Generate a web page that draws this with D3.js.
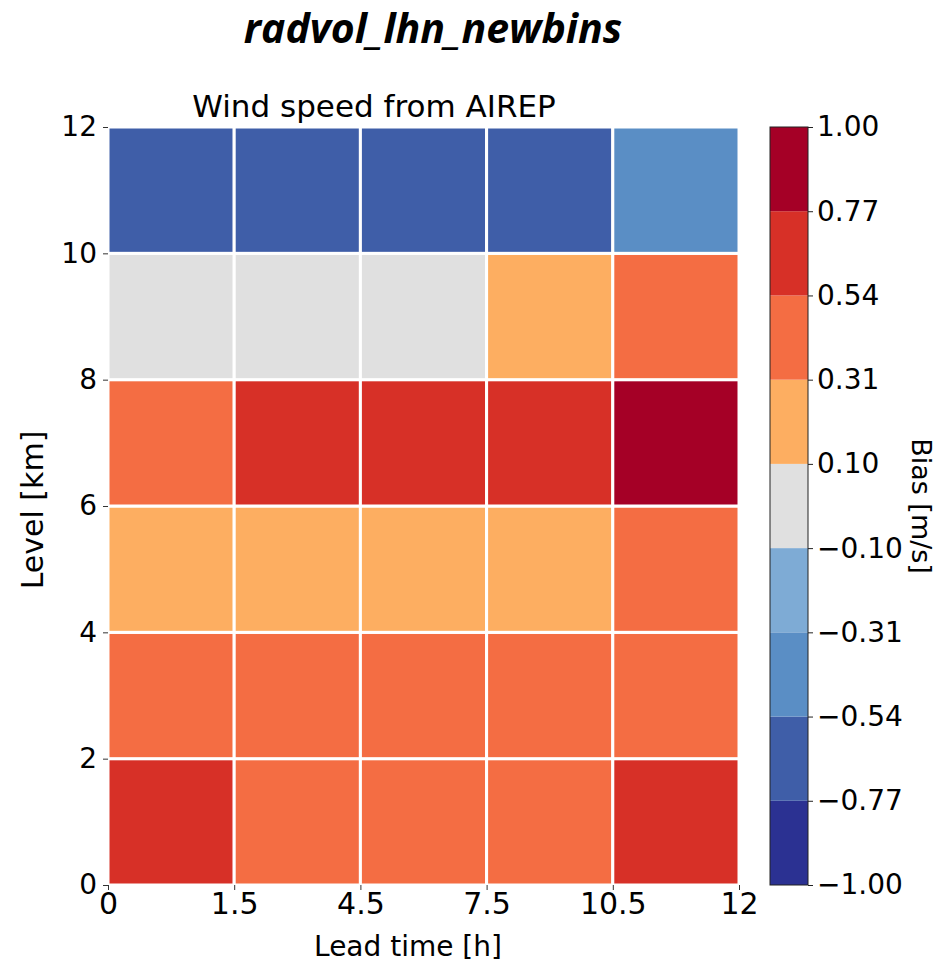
<!DOCTYPE html>
<html>
<head>
<meta charset="utf-8">
<script src="https://cdn.jsdelivr.net/npm/d3@7"></script>
<style>
  body { margin: 0; background: #fff; }
  text { font-family: "DejaVu Sans", sans-serif; fill: #000; }
</style>
</head>
<body>
<svg width="940" height="968"></svg>
<script>
var svg = d3.select("svg");

// lead time bin edges (columns drawn with equal width)
var leadEdges = ["0", "1.5", "4.5", "7.5", "10.5", "12"];
// level bin edges in km
var levelEdges = [0, 2, 4, 6, 8, 10, 12];
// bias per level bin (bottom to top), one value per lead time bin
var bias0to2 = [0.65, 0.45, 0.45, 0.45, 0.65];
var bias2to4 = [0.42, 0.45, 0.44, 0.43, 0.42];
var bias4to6 = [0.20, 0.22, 0.21, 0.20, 0.40];
var bias6to8 = [0.45, 0.66, 0.68, 0.64, 0.85];
var bias8to10 = [0.02, 0.05, 0.03, 0.20, 0.40];
var bias10to12 = [-0.62, -0.60, -0.63, -0.65, -0.45];
var biasRows = [bias0to2, bias2to4, bias4to6, bias6to8, bias8to10, bias10to12];

// colour bar boundaries and colours
var cbBounds = [-1.00, -0.77, -0.54, -0.31, -0.10, 0.10, 0.31, 0.54, 0.77, 1.00];
var cbColors = ["#2b3192", "#3f5ea8", "#5a8ec5", "#7eabd5", "#e0e0e0", "#fdae61", "#f46d43", "#d73027", "#a50026"];

var pLeft = 108, pRight = 739, pTop = 127, pBottom = 885;

var x = d3.scaleLinear().domain([0, leadEdges.length - 1]).range([pLeft, pRight]);
var y = d3.scaleLinear().domain([0, 12]).range([pBottom, pTop]);
var color = d3.scaleThreshold().domain(cbBounds.slice(1, -1)).range(cbColors);

// cells
var cells = [];
biasRows.forEach(function(row, i) {
    row.forEach(function(v, j) {
        cells.push({i: i, j: j, v: v});
    });
});

svg.append("g").selectAll("rect")
    .data(cells)
    .enter().append("rect")
    .attr("x", function(d) { return x(d.j); })
    .attr("y", function(d) { return y(levelEdges[d.i + 1]); })
    .attr("width", function(d) { return x(d.j + 1) - x(d.j); })
    .attr("height", function(d) { return y(levelEdges[d.i]) - y(levelEdges[d.i + 1]); })
    .attr("fill", function(d) { return color(d.v); })
    .attr("stroke", "#fff")
    .attr("stroke-width", 3);

// x axis
var xAxis = svg.append("g")
    .attr("transform", "translate(0," + pBottom + ")")
    .call(d3.axisBottom(x).tickValues(d3.range(leadEdges.length))
        .tickFormat(function(i) { return leadEdges[i]; })
        .tickSize(5).tickPadding(3));
xAxis.select(".domain").remove();
xAxis.selectAll("text").style("font-size", "30px");
xAxis.selectAll("line").attr("stroke", "#333");

// y axis
var yAxis = svg.append("g")
    .attr("transform", "translate(" + pLeft + ",0)")
    .call(d3.axisLeft(y).tickValues(levelEdges).tickSize(5).tickPadding(6));
yAxis.select(".domain").remove();
yAxis.selectAll("text").style("font-size", "28px");
yAxis.selectAll("line").attr("stroke", "#333");

// axis labels
svg.append("text")
    .attr("x", 408).attr("y", 956)
    .attr("text-anchor", "middle")
    .style("font-size", "28px")
    .text("Lead time [h]");

svg.append("text")
    .attr("transform", "translate(43,510) rotate(-90)")
    .attr("text-anchor", "middle")
    .style("font-size", "30px")
    .text("Level [km]");

// titles
svg.append("text")
    .attr("x", 433).attr("y", 43)
    .attr("text-anchor", "middle")
    .style("font-family", "'Open Sans', sans-serif")
    .style("font-weight", "bold")
    .style("font-style", "italic")
    .style("font-size", "41px")
    .text("radvol_lhn_newbins");

svg.append("text")
    .attr("x", 374).attr("y", 117)
    .attr("text-anchor", "middle")
    .style("font-size", "31px")
    .text("Wind speed from AIREP");

// colour bar
var cbLeft = 770, cbWidth = 38;
var cbY = d3.scaleLinear().domain([0, cbBounds.length - 1]).range([pBottom, pTop]);

svg.append("g").selectAll("rect")
    .data(cbColors)
    .enter().append("rect")
    .attr("x", cbLeft)
    .attr("y", function(d, i) { return cbY(i + 1); })
    .attr("width", cbWidth)
    .attr("height", function(d, i) { return cbY(i) - cbY(i + 1); })
    .attr("fill", function(d) { return d; });

svg.append("rect")
    .attr("x", cbLeft).attr("y", pTop)
    .attr("width", cbWidth).attr("height", pBottom - pTop)
    .attr("fill", "none").attr("stroke", "#222").attr("stroke-width", 1);

var cbAxis = svg.append("g")
    .attr("transform", "translate(" + (cbLeft + cbWidth) + ",0)")
    .call(d3.axisRight(cbY).tickValues(d3.range(cbBounds.length))
        .tickFormat(function(i) { return d3.format(".2f")(cbBounds[i]).replace("-", "\u2212"); })
        .tickSize(5).tickPadding(4));
cbAxis.select(".domain").remove();
cbAxis.selectAll("text").style("font-size", "28px");
cbAxis.selectAll("line").attr("stroke", "#222");

svg.append("text")
    .attr("transform", "translate(912,506) rotate(90)")
    .attr("text-anchor", "middle")
    .style("font-size", "27px")
    .text("Bias [m/s]");
</script>
</body>
</html>
